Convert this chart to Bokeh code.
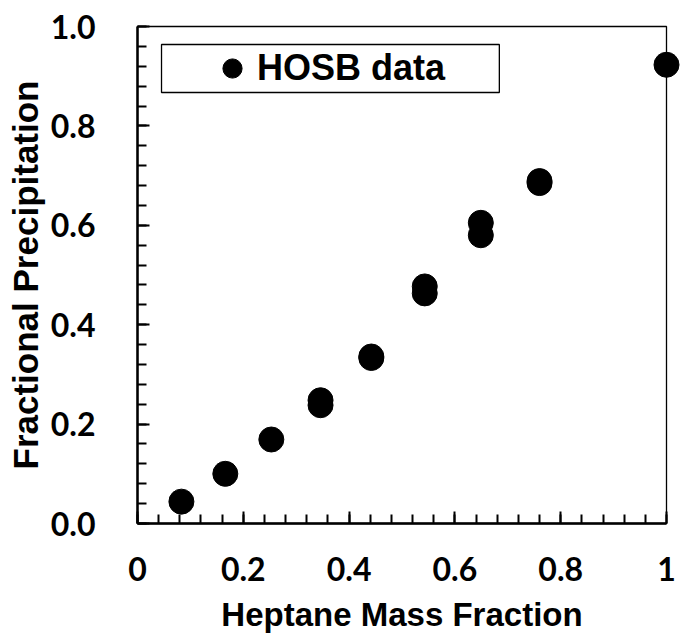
from bokeh.plotting import figure
from bokeh.models import Range1d, FixedTicker, NumeralTickFormatter, Legend, LegendItem, BoxAnnotation
from bokeh.embed import file_html
from bokeh.resources import INLINE

# data
heptane_fraction = [0.083, 0.166, 0.253, 0.346, 0.346, 0.442, 0.442, 0.543, 0.543,
                    0.649, 0.649, 0.760, 0.760, 1.000]
precipitation = [0.044, 0.100, 0.169, 0.248, 0.238, 0.336, 0.333, 0.477, 0.463,
                 0.605, 0.580, 0.689, 0.685, 0.923]
series_name = "HOSB data"
major_ticks = [0.0, 0.2, 0.4, 0.6, 0.8, 1.0]
minor_ticks = [i / 25 for i in range(26)]

p = figure(width=680, height=641, output_backend="svg", toolbar_location=None,
           x_range=Range1d(0, 1), y_range=Range1d(0, 1),
           min_border_left=137, min_border_right=14, min_border_top=26, min_border_bottom=118)
p.background_fill_color = "white"
p.border_fill_color = "white"
p.xgrid.visible = False
p.ygrid.visible = False
p.outline_line_color = "black"
p.outline_line_width = 1.3

r = p.scatter(heptane_fraction, precipitation, size=25, color="black", level="overlay")

for ax in (p.xaxis[0], p.yaxis[0]):
    ax.axis_line_width = 2.5
    ax.axis_line_color = "black"
    ax.major_tick_in = 12
    ax.major_tick_out = 0
    ax.minor_tick_in = 9
    ax.minor_tick_out = 0
    ax.major_tick_line_width = 2
    ax.minor_tick_line_width = 2
    ax.major_tick_line_color = "black"
    ax.minor_tick_line_color = "black"
    ax.major_label_text_font = "Lato"
    ax.major_label_text_font_style = "bold"
    ax.major_label_text_font_size = "32px"
    ax.major_label_text_color = "black"
    ax.axis_label_text_font = "Liberation Sans"
    ax.axis_label_text_font_style = "bold"
    ax.axis_label_text_color = "black"
    ax.ticker = FixedTicker(ticks=major_ticks, minor_ticks=minor_ticks)

p.xaxis[0].formatter = NumeralTickFormatter(format="0.[0]")
p.yaxis[0].formatter = NumeralTickFormatter(format="0.0")
p.xaxis[0].axis_label = "Heptane Mass Fraction"
p.yaxis[0].axis_label = "Fractional Precipitation"
p.xaxis[0].axis_label_text_font_size = "33px"
p.yaxis[0].axis_label_text_font_size = "35px"
p.xaxis[0].major_label_standoff = 33
p.yaxis[0].major_label_standoff = 42
p.xaxis[0].axis_label_standoff = 12
p.yaxis[0].axis_label_standoff = 3

# legend frame
p.add_layout(BoxAnnotation(left=0.0454, right=0.684, top=0.9638, bottom=0.8672,
                           fill_color="white", fill_alpha=1.0,
                           line_color="black", line_width=1.3, line_alpha=1.0))

legend = Legend(items=[LegendItem(label=series_name, renderers=[r])],
                location=(70, 431), margin=0, padding=0,
                glyph_width=50, glyph_height=48, label_standoff=0,
                label_text_font="Liberation Sans", label_text_font_style="bold",
                label_text_font_size="36px", label_text_color="black",
                border_line_alpha=0, background_fill_alpha=0)
p.add_layout(legend, "center")

open("out.html", "w").write(file_html(p, INLINE))
